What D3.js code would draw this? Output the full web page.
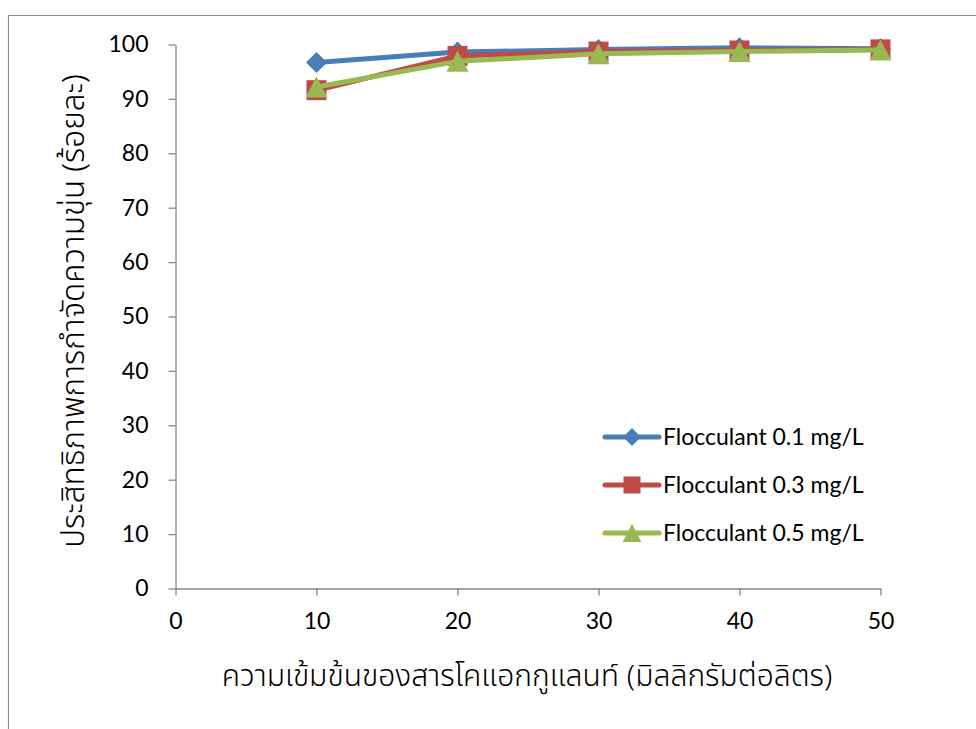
<!DOCTYPE html>
<html>
<head>
<meta charset="utf-8">
<script src="https://cdn.jsdelivr.net/npm/d3@7"></script>
<style>
  html, body { margin: 0; padding: 0; background: #ffffff; }
  svg { display: block; }
  text { font-family: Lato, "Open Sans", "Noto Sans", sans-serif; fill: #000; }
  .thai { font-family: "Noto Sans Thai", "Noto Sans Thai UI", Loma, Garuda, "Noto Sans", sans-serif; font-weight: 300; }
</style>
</head>
<body>
<script>
// Coagulant dose (mg/L) on the x axis
const doses = [10, 20, 30, 40, 50];

// Turbidity removal efficiency (%) for each flocculant dose
const floc01 = [96.7, 98.6, 99.1, 99.4, 99.2];
const floc03 = [91.6, 97.9, 98.7, 98.9, 99.1];
const floc05 = [92.2, 96.9, 98.3, 98.7, 99.0];

const seriesNames = ["Flocculant 0.1 mg/L", "Flocculant 0.3 mg/L", "Flocculant 0.5 mg/L"];
const xTicks = [0, 10, 20, 30, 40, 50];
const yTicks = [0, 10, 20, 30, 40, 50, 60, 70, 80, 90, 100];

const xTitle = "ความเข้มข้นของสารโคแอกกูแลนท์ (มิลลิกรัมต่อลิตร)";
const yTitle = "ประสิทธิภาพการกำจัดความขุ่น (ร้อยละ)";

// Marker shapes: a square-proportioned diamond and a triangle as wide as it is tall
const diamond = {
  draw(ctx, r) {
    ctx.moveTo(0, -r); ctx.lineTo(r, 0); ctx.lineTo(0, r); ctx.lineTo(-r, 0); ctx.closePath();
  }
};
const square = {
  draw(ctx, r) {
    ctx.moveTo(-r, -r); ctx.lineTo(r, -r); ctx.lineTo(r, r); ctx.lineTo(-r, r); ctx.closePath();
  }
};
const triangle = {
  draw(ctx, r) {
    ctx.moveTo(0, -r); ctx.lineTo(r * 1.05, r); ctx.lineTo(-r * 1.05, r); ctx.closePath();
  }
};

const series = [
  { name: seriesNames[0], values: floc01, color: "#4a7ebb", shape: diamond, r: 10.5 },
  { name: seriesNames[1], values: floc03, color: "#be4b48", shape: square, r: 10 },
  { name: seriesNames[2], values: floc05, color: "#98b954", shape: triangle, r: 10.5 }
];

const W = 976, H = 729;
const svg = d3.select("body").append("svg").attr("width", W).attr("height", H);

// Chart frame
svg.append("path")
  .attr("d", `M8.5,${H} L8.5,15.5 L${W},15.5`)
  .attr("fill", "none").attr("stroke", "#8c8c8c").attr("stroke-width", 1.2);

const x = d3.scaleLinear().domain([0, 50]).range([175.5, 880.5]);
const y = d3.scaleLinear().domain([0, 100]).range([588.5, 44.5]);

const axisColor = "#868686";

// Y axis
const yAxis = svg.append("g").attr("transform", `translate(${x(0)},0)`)
  .call(d3.axisLeft(y).tickValues(yTicks).tickSize(7).tickPadding(20).tickSizeOuter(0));
yAxis.select(".domain").attr("stroke", axisColor).attr("stroke-width", 1.3);
yAxis.selectAll(".tick line").attr("stroke", axisColor).attr("stroke-width", 1.3);
yAxis.selectAll(".tick text").attr("font-size", 23).attr("font-family", null);

// X axis
const xAxis = svg.append("g").attr("transform", `translate(0,${y(0)})`)
  .call(d3.axisBottom(x).tickValues(xTicks).tickSize(7).tickPadding(17).tickSizeOuter(0));
xAxis.select(".domain").attr("stroke", axisColor).attr("stroke-width", 1.3);
xAxis.selectAll(".tick line").attr("stroke", axisColor).attr("stroke-width", 1.3);
xAxis.selectAll(".tick text").attr("font-size", 23).attr("font-family", null);

// Axis titles
svg.append("text").attr("class", "thai")
  .attr("x", 527).attr("y", 686)
  .attr("text-anchor", "middle").attr("font-size", 30)
  .text(xTitle);

svg.append("text").attr("class", "thai")
  .attr("transform", `translate(84,${311}) rotate(-90)`)
  .attr("text-anchor", "middle").attr("font-size", 31.5)
  .text(yTitle);

// Series lines and markers
const line = d3.line().x((d, i) => x(doses[i])).y(d => y(d));

series.forEach(s => {
  const g = svg.append("g");
  g.append("path").datum(s.values)
    .attr("d", line)
    .attr("fill", "none").attr("stroke", s.color)
    .attr("stroke-width", 5).attr("stroke-linejoin", "round").attr("stroke-linecap", "round");
  g.selectAll("path.marker").data(s.values).join("path")
    .attr("class", "marker")
    .attr("transform", (d, i) => `translate(${x(doses[i])},${y(d)})`)
    .attr("d", d3.symbol().type(s.shape).size(s.r))
    .attr("fill", s.color);
});

// Legend
const legend = svg.append("g").attr("transform", "translate(603,437)");
series.forEach((s, i) => {
  const row = legend.append("g").attr("transform", `translate(0,${i * 48})`);
  row.append("line").attr("x1", 2).attr("x2", 56).attr("y1", 0).attr("y2", 0)
    .attr("stroke", s.color).attr("stroke-width", 5).attr("stroke-linecap", "round");
  row.append("path").attr("transform", "translate(29,0)")
    .attr("d", d3.symbol().type(s.shape).size(s.r * 0.85)).attr("fill", s.color);
  row.append("text").attr("x", 60).attr("y", 0).attr("dy", "0.35em")
    .attr("font-size", 23).text(s.name);
});
</script>
</body>
</html>
